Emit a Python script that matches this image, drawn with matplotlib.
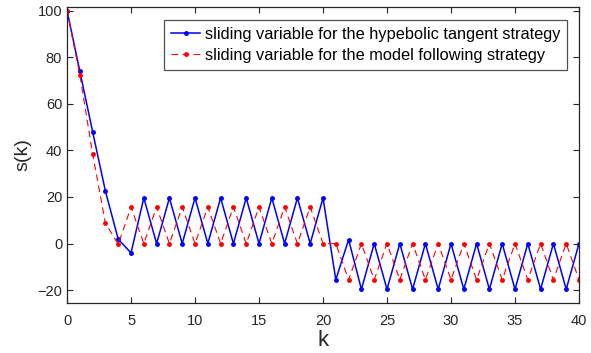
import numpy as np
import matplotlib.pyplot as plt

plt.rcParams['font.family'] = ['Liberation Sans', 'DejaVu Sans']

k = np.arange(0, 41)
s_tanh = [100, 74, 48, 22.5, 1.9, -4.0,
          19.6, 0, 19.6, 0, 19.6, 0, 19.6, 0, 19.6, 0, 19.6, 0, 19.6, 0, 19.6,
          -15.5, 1.7,
          -19.6, 0, -19.6, 0, -19.6, 0, -19.6, 0, -19.6, 0, -19.6, 0, -19.6, 0, -19.6, 0, -19.6, 0]
s_model = [100, 72.5, 38.5, 8.7, -0.3,
           15.7, 0, 15.7, 0, 15.7, 0, 15.7, 0, 15.7, 0, 15.7, 0, 15.7, 0, 15.7,
           0, 0,
           -15.5, 0, -15.5, 0, -15.5, 0, -15.5, 0, -15.5, 0, -15.5, 0, -15.5, 0, -15.5, 0, -15.5, 0, -15.5]

labels = ['sliding variable for the hypebolic tangent strategy',
          'sliding variable for the model following strategy']

fig = plt.figure(figsize=(5.91, 3.53), dpi=100)
ax = fig.add_axes([0.1134, 0.1416, 0.8663, 0.8385])

ax.plot(k, s_tanh, '-', color='#0000FF', lw=1.1, marker='.', ms=5, label=labels[0])
ax.plot(k, s_model, '--', color='#FF0000', lw=0.8, marker='.', ms=5, dashes=(6, 4), label=labels[1])

ax.set_xlim(0, 40)
ax.set_ylim(-25.5, 101.5)
ax.set_xticks(np.arange(0, 41, 5))
ax.set_yticks(np.arange(-20, 101, 20))
ax.tick_params(direction='in', top=True, right=True, labelsize=10.5, colors='#262626', length=4)
ax.tick_params(axis='x', pad=8)
for sp in ax.spines.values():
    sp.set_color('#262626')
    sp.set_linewidth(0.9)

ax.set_xlabel('k', fontsize=16, color='#262626', labelpad=1)
ax.set_ylabel('s(k)', fontsize=14, color='#262626', labelpad=4)

leg = ax.legend(loc='upper right', bbox_to_anchor=(0.977, 0.956), fontsize=11.8, frameon=True,
                fancybox=False, edgecolor='#262626', handlelength=1.8, handletextpad=0.3,
                borderpad=0.4, labelspacing=0.4, borderaxespad=0)
leg.get_frame().set_linewidth(0.9)

fig.savefig('out.png', dpi=100)
